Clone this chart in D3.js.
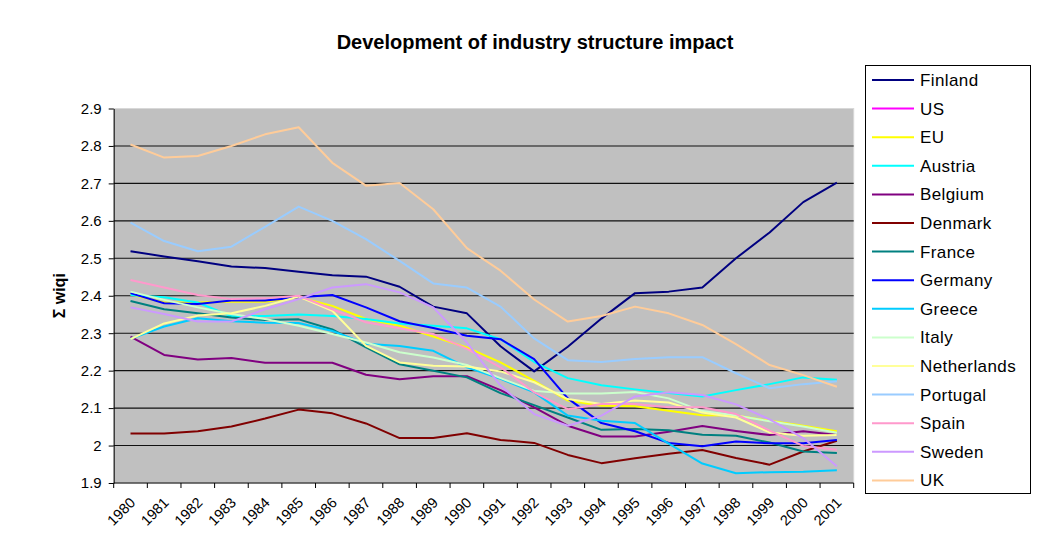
<!DOCTYPE html>
<html>
<head>
<meta charset="utf-8">
<script src="https://cdn.jsdelivr.net/npm/d3@7"></script>
<style>
  body { margin: 0; background: #fff; }
  text { font-family: "Liberation Sans", Arial, sans-serif; }
</style>
</head>
<body>
<script>
//industry structure impact chart, 1980-2001

var years = d3.range(1980, 2002).map(String);

var countries = ["Finland", "US", "EU", "Austria", "Belgium", "Denmark", "France", "Germany",
    "Greece", "Italy", "Netherlands", "Portugal", "Spain", "Sweden", "UK"];

var colours = ["#000080", "#ff00ff", "#ffff00", "#00ffff", "#800080", "#800000", "#008080", "#0000ff",
    "#00ccff", "#ccffcc", "#ffff99", "#99ccff", "#ff99cc", "#cc99ff", "#ffcc99"];

var yTicks = [1.9, 2, 2.1, 2.2, 2.3, 2.4, 2.5, 2.6, 2.7, 2.8, 2.9];

//series values (US line not visible)
var finland = [2.519, 2.505, 2.492, 2.478, 2.474, 2.464, 2.455, 2.451, 2.424, 2.371, 2.353, 2.265, 2.198, 2.264, 2.339, 2.407, 2.411, 2.422, 2.500, 2.569, 2.650, 2.702];
var us = [];
var eu = [2.404, 2.382, 2.382, 2.384, 2.384, 2.396, 2.373, 2.338, 2.320, 2.291, 2.262, 2.222, 2.173, 2.120, 2.106, 2.105, 2.093, 2.081, 2.080, 2.066, 2.053, 2.038];
var austria = [2.402, 2.396, 2.382, 2.345, 2.346, 2.350, 2.346, 2.338, 2.326, 2.320, 2.313, 2.284, 2.223, 2.180, 2.161, 2.150, 2.140, 2.131, 2.148, 2.164, 2.182, 2.176];
var belgium = [2.291, 2.242, 2.230, 2.234, 2.221, 2.221, 2.221, 2.189, 2.177, 2.185, 2.185, 2.148, 2.102, 2.053, 2.024, 2.024, 2.037, 2.052, 2.039, 2.028, 2.038, 2.028];
var denmark = [2.032, 2.032, 2.038, 2.051, 2.072, 2.096, 2.086, 2.059, 2.020, 2.020, 2.033, 2.015, 2.007, 1.975, 1.953, 1.966, 1.978, 1.988, 1.967, 1.949, 1.984, 2.013];
var france = [2.386, 2.364, 2.353, 2.342, 2.335, 2.337, 2.310, 2.262, 2.217, 2.200, 2.182, 2.140, 2.108, 2.075, 2.042, 2.044, 2.041, 2.029, 2.026, 2.008, 1.984, 1.980];
var germany = [2.407, 2.380, 2.378, 2.387, 2.387, 2.396, 2.402, 2.369, 2.332, 2.314, 2.293, 2.284, 2.231, 2.126, 2.060, 2.038, 2.007, 1.998, 2.011, 2.006, 2.006, 2.015];
var greece = [2.285, 2.318, 2.340, 2.332, 2.328, 2.327, 2.306, 2.272, 2.266, 2.253, 2.209, 2.178, 2.142, 2.080, 2.066, 2.060, 2.005, 1.952, 1.926, 1.929, 1.930, 1.934];
var italy = [2.411, 2.389, 2.369, 2.351, 2.338, 2.320, 2.298, 2.275, 2.249, 2.235, 2.215, 2.180, 2.146, 2.139, 2.139, 2.143, 2.126, 2.092, 2.080, 2.065, 2.051, 2.034];
var netherlands = [2.284, 2.326, 2.347, 2.353, 2.373, 2.398, 2.360, 2.266, 2.222, 2.213, 2.211, 2.198, 2.169, 2.124, 2.111, 2.120, 2.115, 2.088, 2.075, 2.035, 2.026, 2.028];
var portugal = [2.595, 2.546, 2.519, 2.531, 2.584, 2.638, 2.600, 2.551, 2.493, 2.433, 2.422, 2.371, 2.286, 2.228, 2.223, 2.231, 2.236, 2.236, 2.193, 2.153, 2.164, 2.172];
var spain = [2.442, 2.422, 2.402, 2.391, 2.393, 2.400, 2.364, 2.329, 2.313, 2.298, 2.258, 2.209, 2.142, 2.097, 2.111, 2.111, 2.102, 2.102, 2.084, 2.040, 1.999, 1.989];
var sweden = [2.369, 2.351, 2.331, 2.331, 2.364, 2.391, 2.422, 2.431, 2.409, 2.369, 2.275, 2.160, 2.084, 2.053, 2.080, 2.131, 2.142, 2.135, 2.110, 2.070, 2.020, 1.945];
var uk = [2.804, 2.769, 2.773, 2.800, 2.831, 2.850, 2.755, 2.694, 2.701, 2.631, 2.527, 2.467, 2.390, 2.331, 2.346, 2.371, 2.353, 2.322, 2.271, 2.215, 2.188, 2.157];

var seriesValues = [finland, us, eu, austria, belgium, denmark, france, germany,
    greece, italy, netherlands, portugal, spain, sweden, uk];

window.onload = drawChart();

function drawChart(){
    var width = 1048,
        height = 550;

    //plot area edges
    var left = 113.7, right = 853.7, top = 108.5, bottom = 483;

    var svg = d3.select("body")
        .append("svg")
        .attr("width", width)
        .attr("height", height);

    var x = d3.scaleBand()
        .domain(years)
        .range([left, right]);

    var y = d3.scaleLinear()
        .domain([1.9, 2.9])
        .range([bottom, top]);

    //grey plot background
    svg.append("rect")
        .attr("x", left)
        .attr("y", top)
        .attr("width", right - left)
        .attr("height", bottom - top)
        .style("fill", "#c0c0c0")
        .style("stroke", "#d8d8d8")
        .style("stroke-width", 1);

    //gridlines
    svg.selectAll(".grid")
        .data(yTicks.filter(function(d){ return d > 1.95 && d < 2.85; }))
        .enter()
        .append("line")
        .attr("class", "grid")
        .attr("x1", left)
        .attr("x2", right)
        .attr("y1", function(d){ return y(d); })
        .attr("y2", function(d){ return y(d); })
        .style("stroke", "#111")
        .style("stroke-width", 1.1);

    //y axis
    var yAxis = svg.append("g")
        .attr("transform", "translate(" + left + ",0)")
        .call(d3.axisLeft(y).tickValues(yTicks).tickSize(5).tickSizeOuter(0)
            .tickFormat(function(d){ return d3.format("")(+d.toFixed(1)); }));
    yAxis.select(".domain").style("stroke", "#000");
    yAxis.selectAll("text")
        .attr("x", -12)
        .style("font-size", "15px")
        .style("fill", "#000");

    //x axis, ticks between categories
    var xAxis = svg.append("g")
        .attr("transform", "translate(0," + bottom + ")");
    xAxis.append("line")
        .attr("x1", left)
        .attr("x2", right)
        .style("stroke", "#000");
    xAxis.selectAll(".xtick")
        .data(years.concat(["end"]))
        .enter()
        .append("line")
        .attr("class", "xtick")
        .attr("x1", function(d){ return d == "end" ? right : x(d); })
        .attr("x2", function(d){ return d == "end" ? right : x(d); })
        .attr("y1", 0)
        .attr("y2", 5)
        .style("stroke", "#000");
    xAxis.selectAll(".xlabel")
        .data(years)
        .enter()
        .append("text")
        .attr("class", "xlabel")
        .attr("transform", function(d){
            return "translate(" + (x(d) + x.bandwidth() / 2 + 2) + ",17) rotate(-45)";
        })
        .attr("text-anchor", "end")
        .attr("dy", "0.35em")
        .style("font-size", "14.5px")
        .text(function(d){ return d; });

    //series lines
    var line = d3.line()
        .x(function(d, i){ return x(years[i]) + x.bandwidth() / 2; })
        .y(function(d){ return y(d); });

    svg.selectAll(".series")
        .data(seriesValues)
        .enter()
        .append("path")
        .attr("class", "series")
        .attr("d", function(d){ return d.length ? line(d) : null; })
        .style("fill", "none")
        .style("stroke", function(d, i){ return colours[i]; })
        .style("stroke-width", 2)
        .style("stroke-linejoin", "round");

    //title
    svg.append("text")
        .attr("x", 535)
        .attr("y", 49)
        .attr("text-anchor", "middle")
        .style("font-size", "20px")
        .style("font-weight", "bold")
        .text("Development of industry structure impact");

    //y axis title
    svg.append("text")
        .attr("transform", "translate(65," + ((top + bottom) / 2) + ") rotate(-90)")
        .attr("text-anchor", "middle")
        .style("font-size", "16px")
        .style("font-weight", "bold")
        .text("\u03a3 wiqi");

    //legend
    var legend = svg.append("g");
    legend.append("rect")
        .attr("x", 865.5)
        .attr("y", 65.5)
        .attr("width", 165)
        .attr("height", 428)
        .style("fill", "#fff")
        .style("stroke", "#000");

    var items = legend.selectAll(".item")
        .data(countries)
        .enter()
        .append("g")
        .attr("class", "item")
        .attr("transform", function(d, i){ return "translate(0," + (80 + i * 28.6) + ")"; });
    items.append("line")
        .attr("x1", 872)
        .attr("x2", 914)
        .style("stroke", function(d, i){ return colours[i]; })
        .style("stroke-width", 2);
    items.append("text")
        .attr("x", 920)
        .attr("dy", "0.35em")
        .style("font-size", "17px")
        .style("letter-spacing", "0.4px")
        .text(function(d){ return d; });
};
</script>
</body>
</html>
